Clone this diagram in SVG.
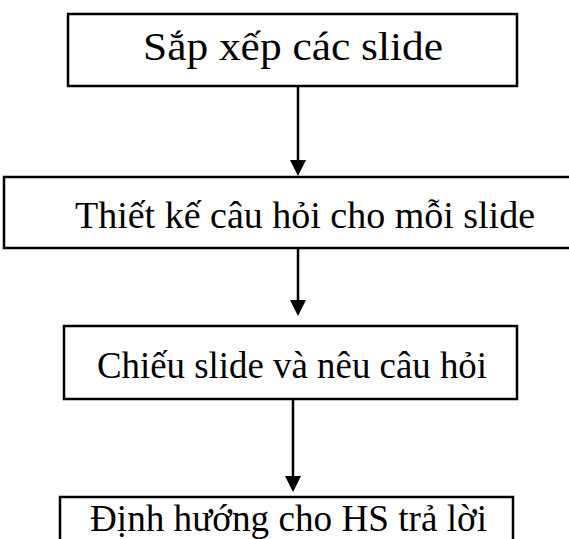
<svg xmlns="http://www.w3.org/2000/svg" width="569" height="539" viewBox="0 0 569 539">
<style>
.box{fill:#fff;stroke:#000;stroke-width:2.5}
.lbl{font-family:"Liberation Serif","Times New Roman",serif;font-size:38px;fill:#000}
.conn{stroke:#000;stroke-width:2.5;fill:none}
.head{fill:#000}
</style>
<rect width="569" height="539" fill="#fff"/>
<g id="n1"><rect class="box" x="68" y="14" width="449" height="72"/><text class="lbl" x="143" y="60" style="font-size:41px" textLength="300" lengthAdjust="spacingAndGlyphs">Sắp xếp các slide</text></g>
<g id="n2"><rect class="box" x="4" y="177" width="600" height="71"/><text class="lbl" x="75" y="228" textLength="460" lengthAdjust="spacingAndGlyphs">Thiết kế câu hỏi cho mỗi slide</text></g>
<g id="n3"><rect class="box" x="64" y="326" width="453" height="73"/><text class="lbl" x="97" y="378" style="font-size:37px" textLength="390" lengthAdjust="spacingAndGlyphs">Chiếu slide và nêu câu hỏi</text></g>
<g id="n4"><rect class="box" x="60" y="497" width="453" height="70"/><text class="lbl" x="90" y="531" style="font-size:37.5px" textLength="397" lengthAdjust="spacingAndGlyphs">Định hướng cho HS trả lời</text></g>
<g id="connectors">
<line class="conn" x1="298" y1="86" x2="298" y2="162"/><path class="head" d="M290,160 L306,160 L298,176 Z"/>
<line class="conn" x1="298" y1="248" x2="298" y2="302"/><path class="head" d="M290,300 L306,300 L298,316 Z"/>
<line class="conn" x1="293" y1="399" x2="293" y2="478"/><path class="head" d="M285,476 L301,476 L293,492 Z"/>
</g>
</svg>
